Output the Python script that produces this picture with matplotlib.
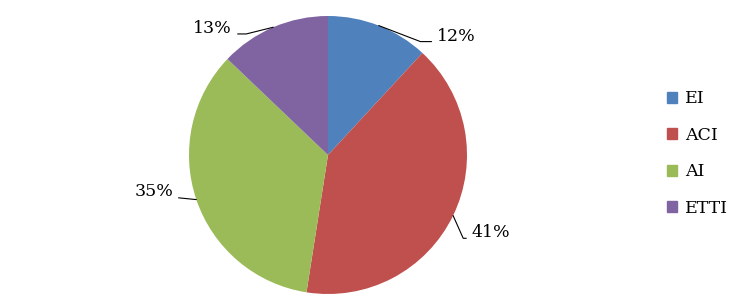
import matplotlib
matplotlib.use('Agg')
import matplotlib.pyplot as plt
import matplotlib.patches as patches
import numpy as np

labels = ['EI', 'ACI', 'AI', 'ETTI']
values = [12, 41, 35, 13]
pct_text = ['12%', '41%', '35%', '13%']
colors = ['#4F81BD', '#C0504D', '#9BBB59', '#8064A2']

plt.rcParams['font.family'] = ['DejaVu Serif']

fig = plt.figure(figsize=(7.5, 3.01), dpi=100)
# pie axes: centre ~ (328, 155) px, radius ~139 px
ax = fig.add_axes([(328 - 139) / 750, (301 - 155 - 139) / 301, 278 / 750, 278 / 301])
wedges, _ = ax.pie(values, colors=colors, startangle=90, counterclock=False,
                   radius=1, wedgeprops=dict(linewidth=0))
ax.set_xlim(-1, 1)
ax.set_ylim(-1, 1)
ax.set_aspect('equal')
ax.axis('off')

#### Labels with leader lines ####
# text anchor (data units, radius = 1), alignment, elbow angle of leader
text_pos = [(0.785, 0.855), (1.035, -0.56), (-1.115, -0.265), (-0.69, 0.91)]
text_ha = ['left', 'left', 'right', 'right']
elbow = [-21, -66, None, 14]
for w, txt, pos, ha, ang in zip(wedges, pct_text, text_pos, text_ha, elbow):
    mid = np.deg2rad((w.theta1 + w.theta2) / 2)
    xy = (np.cos(mid), np.sin(mid))
    if ang is None:
        cs = 'arc3'
    else:
        cs = 'angle,angleA=0,angleB=%d,rad=0' % ang
    relpos = (0, 0.18) if ha == 'left' else (1, 0.18)
    ax.annotate(txt, xy=xy, xytext=pos, ha=ha, va='center', fontsize=12.5,
                annotation_clip=False,
                arrowprops=dict(arrowstyle='-', color='black', lw=0.8,
                                shrinkA=2, shrinkB=0, relpos=relpos,
                                connectionstyle=cs))

#### Legend ####
handles = [patches.Patch(color=c, label=l) for c, l in zip(colors, labels)]
fig.legend(handles=handles, loc='center left', bbox_to_anchor=(667 / 750, 0.49),
           frameon=False, fontsize=12.5, handlelength=0.6, handleheight=0.6,
           handletextpad=0.45, labelspacing=1.12, borderpad=0, borderaxespad=0)

fig.savefig('out.png', dpi=100)
